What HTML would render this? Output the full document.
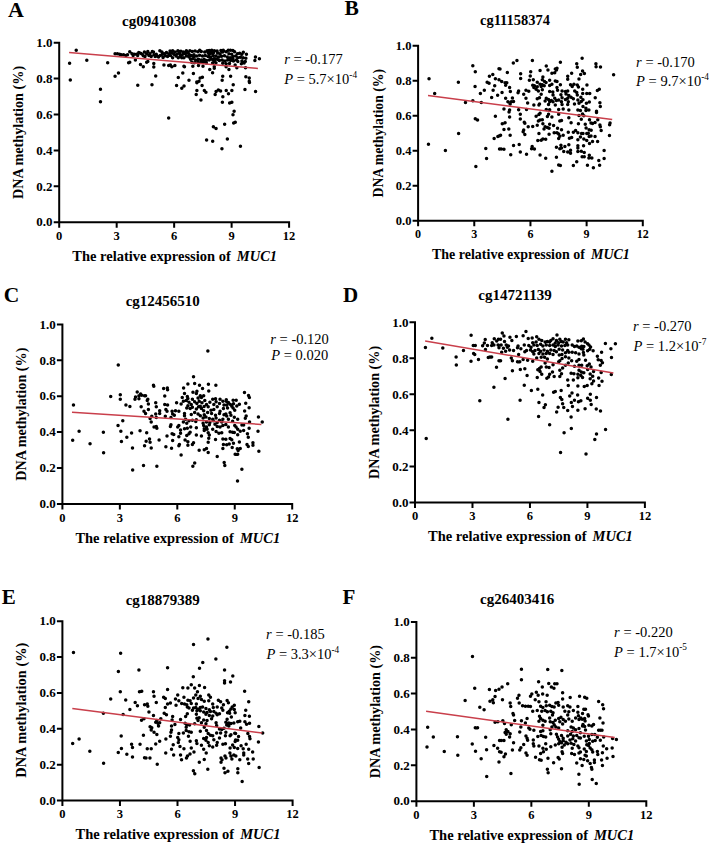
<!DOCTYPE html><html><head><meta charset="utf-8"><style>
html,body{margin:0;padding:0;background:#fff;}
svg{display:block;}
text{font-family:"Liberation Serif",serif;}
.b{font-weight:bold;}
</style></head><body>
<svg width="709" height="844" viewBox="0 0 709 844">
<text class="b" x="8" y="16.7" font-size="22">A</text>
<text class="b" x="122.1" y="25.7" font-size="15">cg09410308</text>
<path d="M59.2 41.7V223.2M58.2 222.2H290.1M53.7 222.2H59.2M53.7 186.3H59.2M53.7 150.4H59.2M53.7 114.5H59.2M53.7 78.6H59.2M53.7 42.7H59.2M59.2 222.2V227.7M116.68 222.2V227.7M174.15 222.2V227.7M231.62 222.2V227.7M289.1 222.2V227.7" stroke="#000" stroke-width="2.0" fill="none"/>
<text class="b" x="52.6" y="226.4" font-size="13" text-anchor="end">0.0</text>
<text class="b" x="52.6" y="190.5" font-size="13" text-anchor="end">0.2</text>
<text class="b" x="52.6" y="154.6" font-size="13" text-anchor="end">0.4</text>
<text class="b" x="52.6" y="118.7" font-size="13" text-anchor="end">0.6</text>
<text class="b" x="52.6" y="82.8" font-size="13" text-anchor="end">0.8</text>
<text class="b" x="52.6" y="46.9" font-size="13" text-anchor="end">1.0</text>
<text class="b" x="59.2" y="239.8" font-size="12.5" text-anchor="middle">0</text>
<text class="b" x="116.68" y="239.8" font-size="12.5" text-anchor="middle">3</text>
<text class="b" x="174.15" y="239.8" font-size="12.5" text-anchor="middle">6</text>
<text class="b" x="231.62" y="239.8" font-size="12.5" text-anchor="middle">9</text>
<text class="b" x="289.1" y="239.8" font-size="12.5" text-anchor="middle">12</text>
<text class="b" x="72.24" y="260.9" font-size="14.5">The relative expression of</text>
<text class="b" x="236.78" y="260.9" font-size="14.5" font-style="italic">MUC1</text>
<text class="b" transform="translate(23 132.45) rotate(-90)" x="0" y="0" font-size="14.2" text-anchor="middle">DNA methylation (%)</text>
<path d="M76.22 50.16h0.01M69.59 63.27h0.01M86.8 60.17h0.01M107.67 62.85h0.01M70.3 80.06h0.01M100.48 89.37h0.01M100.48 101.64h0.01M115.08 53.72h0.01M117.33 53.72h0.01M119.59 54.28h0.01M121.28 54.85h0.01M123.54 54.85h0.01M125.8 55.41h0.01M127.49 54.85h0.01M129.75 51.8h0.01M132 53.72h0.01M133.13 55.41h0.01M134.26 54.28h0.01M136.52 54.28h0.01M137.64 55.41h0.01M138.77 52.59h0.01M140.47 53.16h0.01M142.16 54.28h0.01M143.29 55.64h0.01M144.41 52.03h0.01M144.98 56.54h0.01M146.67 53.72h0.01M147.8 51.46h0.01M148.93 55.41h0.01M150.06 53.72h0.01M151.18 56.54h0.01M152.31 51.46h0.01M153.44 52.03h0.01M154.01 54.85h0.01M155.13 56.54h0.01M156.26 54.28h0.01M157.39 56.31h0.01M158.52 57.1h0.01M160.21 55.41h0.01M161.9 52.03h0.01M162.47 54.28h0.01M163.03 57.44h0.01M164.16 53.72h0.01M165.29 55.64h0.01M166.42 52.59h0.01M167.55 56.54h0.01M168.67 53.72h0.01M170.37 55.41h0.01M171.5 52.59h0.01M172.62 57.67h0.01M173.75 54.28h0.01M174.88 52.03h0.01M176.01 55.98h0.01M177.14 54.28h0.01M178.27 57.67h0.01M179.39 53.16h0.01M180.52 55.98h0.01M182.21 54.85h0.01M183.34 52.03h0.01M183.91 57.67h0.01M185.04 53.72h0.01M186.73 55.98h0.01M187.86 52.59h0.01M188.98 57.1h0.01M188.98 54.28h0.01M135.39 59.93h0.01M128.62 62.75h0.01M129.75 62.18h0.01M140.47 64.44h0.01M143.29 66.66h0.01M146.67 62.18h0.01M147.8 61.62h0.01M153.78 63.54h0.01M153.78 67h0.01M163.94 65h0.01M168.67 65.57h0.01M170.37 65h0.01M171.83 66.66h0.01M174.88 65.57h0.01M183.91 66.13h0.01M184.47 66.66h0.01M115.08 76.25h0.01M118.46 73.09h0.01M155.7 76.02h0.01M178.27 77.38h0.01M182.78 73.09h0.01M188.98 80.2h0.01M192.26 51.46h0.01M195.08 51.12h0.01M197.9 51.8h0.01M201.28 51.46h0.01M204.67 52.03h0.01M208.05 52.59h0.01M210.87 53.16h0.01M213.7 52.59h0.01M217.08 51.12h0.01M219.9 53.72h0.01M222.72 52.03h0.01M226.11 51.8h0.01M228.93 53.72h0.01M231.75 54.28h0.01M234.57 51.8h0.01M237.39 53.72h0.01M239.65 53.16h0.01M241.9 54.28h0.01M246.42 54.28h0.01M191.13 55.41h0.01M193.95 54.85h0.01M196.77 55.98h0.01M199.59 55.19h0.01M202.41 55.98h0.01M205.23 55.41h0.01M208.05 56.54h0.01M210.31 57.1h0.01M213.13 55.41h0.01M215.95 55.98h0.01M218.77 57.1h0.01M221.59 56.31h0.01M224.41 55.64h0.01M227.24 57.1h0.01M230.06 57.67h0.01M232.88 56.54h0.01M235.7 55.98h0.01M237.95 57.67h0.01M243.03 57.67h0.01M245.85 58.23h0.01M190.56 59.36h0.01M192.82 58.8h0.01M195.64 59.93h0.01M198.46 59.36h0.01M201.28 59.93h0.01M204.1 59.36h0.01M206.36 60.49h0.01M209.18 59.93h0.01M212 59.36h0.01M214.26 61.05h0.01M217.08 59.36h0.01M219.34 60.49h0.01M222.16 59.93h0.01M224.98 61.05h0.01M227.8 59.93h0.01M230.62 60.49h0.01M233.44 61.05h0.01M236.26 59.93h0.01M241.9 61.05h0.01M245.29 61.62h0.01M191.69 62.18h0.01M194.51 62.75h0.01M197.9 61.96h0.01M200.72 62.41h0.01M203.54 62.18h0.01M206.36 63.08h0.01M212.57 63.08h0.01M215.95 62.75h0.01M222.72 63.31h0.01M226.11 63.87h0.01M229.49 63.54h0.01M235.13 65h0.01M241.34 63.87h0.01M244.16 63.08h0.01M192.82 66.13h0.01M198.46 65.57h0.01M202.98 66.13h0.01M214.26 66.66h0.01M214.26 68.35h0.01M209.75 69.48h0.01M212.57 72.64h0.01M226.11 66.66h0.01M228.93 69.48h0.01M236.83 67.79h0.01M245.51 67.79h0.01M193.39 73.43h0.01M200.16 77.94h0.01M202.41 77.15h0.01M222.72 76.25h0.01M222.16 80.2h0.01M230.62 76.25h0.01M245.85 76.81h0.01M249.24 77.94h0.01M249.24 81.33h0.01M196.77 81.89h0.01M199.03 81.33h0.01M255.44 57.1h0.01M254.88 60.49h0.01M259.39 58.8h0.01M137.76 85.16h0.01M151.97 84.71h0.01M176.57 85.61h0.01M181.76 88.32h0.01M184.02 86.06h0.01M196.88 82.68h0.01M202.07 85.61h0.01M196.88 90.58h0.01M204.33 90.58h0.01M205.91 92.16h0.01M196.21 94.41h0.01M216.06 91.48h0.01M218.32 89.9h0.01M220.58 91.03h0.01M215.16 94.41h0.01M226.22 90.58h0.01M231.86 90.58h0.01M228.48 93.73h0.01M222.83 96.67h0.01M233.22 84.71h0.01M244.95 89.45h0.01M255.56 91.48h0.01M249.46 82.45h0.01M200.94 100.05h0.01M222.38 102.31h0.01M229.61 102.99h0.01M231.86 102.31h0.01M234.12 111.34h0.01M232.99 114.72h0.01M235.25 122.17h0.01M233.67 123.07h0.01M224.64 124.2h0.01M213.36 126.68h0.01M216.06 128.49h0.01M168.67 118.11h0.01M206.59 140h0.01M212.68 141.35h0.01M227.35 139.09h0.01M221.93 148.8h0.01M240.44 146.32h0.01M159.86 50.72h0.01M170.03 50.95h0.01M172.66 50.67h0.01M177.9 50.78h0.01M180.9 51.36h0.01M186.38 50.64h0.01M181.76 57.75h0.01M189.89 50.81h0.01M199.67 50.31h0.01M207.16 50.65h0.01M209.21 50.59h0.01M211.74 50.14h0.01M214.32 50.72h0.01M220.88 50.61h0.01M223.25 50.15h0.01M228.27 50.14h0.01M230.4 50.22h0.01M232.88 50.39h0.01M217.62 52.97h0.01M208.96 54.44h0.01M193.92 57.01h0.01M214.09 58.86h0.01M232.9 58.81h0.01M243.32 52.34h0.01M240.45 57.16h0.01M237.85 61.59h0.01" stroke="#000" stroke-width="3.5" stroke-linecap="round" fill="none"/>
<line x1="69.1" y1="52.5" x2="257.9" y2="68.4" stroke="#c93f4b" stroke-width="1.5"/>
<text x="284.2" y="64.3" font-size="14.5"><tspan font-style="italic">r</tspan> = -0.177</text>
<text x="284.2" y="84.4" font-size="14.5"><tspan font-style="italic">P</tspan> = 5.7×10<tspan font-size="9.3" dy="-6.4">-4</tspan></text>
<text class="b" x="344.6" y="14.8" font-size="21.5">B</text>
<text class="b" x="480" y="24.9" font-size="14.47">cg11158374</text>
<path d="M418.1 44.8V221.7M417.1 220.7H643.8M412.6 220.7H418.1M412.6 185.72H418.1M412.6 150.74H418.1M412.6 115.76H418.1M412.6 80.78H418.1M412.6 45.8H418.1M418.1 220.7V226.2M474.27 220.7V226.2M530.45 220.7V226.2M586.62 220.7V226.2M642.8 220.7V226.2" stroke="#000" stroke-width="2.0" fill="none"/>
<text class="b" x="411.5" y="224.9" font-size="12.54" text-anchor="end">0.0</text>
<text class="b" x="411.5" y="189.92" font-size="12.54" text-anchor="end">0.2</text>
<text class="b" x="411.5" y="154.94" font-size="12.54" text-anchor="end">0.4</text>
<text class="b" x="411.5" y="119.96" font-size="12.54" text-anchor="end">0.6</text>
<text class="b" x="411.5" y="84.98" font-size="12.54" text-anchor="end">0.8</text>
<text class="b" x="411.5" y="50" font-size="12.54" text-anchor="end">1.0</text>
<text class="b" x="418.1" y="238.3" font-size="12.06" text-anchor="middle">0</text>
<text class="b" x="474.27" y="238.3" font-size="12.06" text-anchor="middle">3</text>
<text class="b" x="530.45" y="238.3" font-size="12.06" text-anchor="middle">6</text>
<text class="b" x="586.62" y="238.3" font-size="12.06" text-anchor="middle">9</text>
<text class="b" x="642.8" y="238.3" font-size="12.06" text-anchor="middle">12</text>
<text class="b" x="432.01" y="259.4" font-size="13.99">The relative expression of</text>
<text class="b" x="591.01" y="259.4" font-size="13.99" font-style="italic">MUC1</text>
<text class="b" transform="translate(383 133.25) rotate(-90)" x="0" y="0" font-size="13.7" text-anchor="middle">DNA methylation (%)</text>
<path d="M472.81 65.77h0.01M475.29 71.75h0.01M498.98 68.7h0.01M429.03 78.85h0.01M458.36 82.24h0.01M492.78 74.57h0.01M489.39 76.26h0.01M495.37 78.85h0.01M498.98 79.64h0.01M487.14 82.24h0.01M489.06 83.37h0.01M475.06 86.41h0.01M494.7 85.85h0.01M434.67 93.52h0.01M484.32 90.36h0.01M480.37 93.52h0.01M493.12 90.36h0.01M491.65 97.47h0.01M497.63 95.22h0.01M465.47 102.44h0.01M472.81 100.74h0.01M481.27 102.44h0.01M516.93 60.46h0.01M513.31 63.06h0.01M532.38 60.46h0.01M560.37 62.16h0.01M576.73 63.85h0.01M500 68.93h0.01M546.26 66.1h0.01M547.95 70.05h0.01M540.06 70.62h0.01M555.29 68.93h0.01M556.98 68.36h0.01M556.42 70.05h0.01M577.29 67.23h0.01M507.33 72.54h0.01M520.65 73.78h0.01M530.69 71.75h0.01M551.9 73.21h0.01M554.72 72.87h0.01M571.65 73.21h0.01M530.24 75.92h0.01M520.65 78.52h0.01M542.88 77.05h0.01M567.7 76.26h0.01M578.98 79.08h0.01M567.7 79.31h0.01M501.69 81.56h0.01M529.34 80.21h0.01M533.29 79.64h0.01M542.31 79.64h0.01M549.65 80.21h0.01M555.29 81.11h0.01M556.98 81.56h0.01M505.08 82.69h0.01M506.77 82.69h0.01M537.24 82.24h0.01M544.57 81.56h0.01M546.04 82.47h0.01M505.64 85.29h0.01M532.72 85.29h0.01M534.41 85.85h0.01M540.06 84.16h0.01M542.31 84.72h0.01M549.65 85.62h0.01M551.9 84.16h0.01M560.37 84.72h0.01M570.52 84.72h0.01M573.91 84.16h0.01M577.29 84.95h0.01M509.59 87.54h0.01M533.85 87.54h0.01M537.24 86.75h0.01M541.18 86.41h0.01M544.23 85.85h0.01M556.98 87.54h0.01M572.21 86.41h0.01M578.42 86.98h0.01M518.62 90.93h0.01M518.05 92.85h0.01M525.95 90.36h0.01M528.77 91.27h0.01M502.03 92.62h0.01M510.38 91.49h0.01M536.11 89.24h0.01M538.36 90.93h0.01M542.31 89.8h0.01M549.65 91.49h0.01M552.81 92.06h0.01M557.55 90.36h0.01M562.06 90.93h0.01M565.44 91.49h0.01M567.7 90.93h0.01M574.7 90.93h0.01M576.73 92.62h0.01M523.7 94.31h0.01M541.18 94.31h0.01M553.03 94.88h0.01M560.93 94.65h0.01M566.01 93.97h0.01M568.83 95.44h0.01M577.29 94.88h0.01M505.64 98.26h0.01M512.41 98.04h0.01M525.95 98.26h0.01M537.24 98.83h0.01M539.49 97.7h0.01M546.26 98.26h0.01M548.52 99.39h0.01M551.34 100.52h0.01M554.72 98.26h0.01M558.67 99.95h0.01M562.06 97.7h0.01M565.44 99.39h0.01M567.7 98.26h0.01M571.09 97.13h0.01M573.34 98.83h0.01M507.9 101.65h0.01M511.28 101.65h0.01M513.54 101.42h0.01M545.13 101.08h0.01M549.65 101.65h0.01M553.03 101.65h0.01M556.42 100.52h0.01M561.5 101.65h0.01M568.27 101.65h0.01M577.86 99.95h0.01M510.16 103.9h0.01M527.64 103h0.01M533.85 105.03h0.01M539.49 103.9h0.01M538.93 105.03h0.01M548.52 104.47h0.01M555.29 105.03h0.01M562.06 104.47h0.01M567.7 104.47h0.01M574.47 103.9h0.01M578.98 103.34h0.01M503.95 108.98h0.01M509.59 110.11h0.01M518.62 109.77h0.01M526.52 109.55h0.01M546.26 109.55h0.01M549.65 109.77h0.01M558.67 109.55h0.01M563.19 108.98h0.01M568.83 110.11h0.01M577.86 110.11h0.01M582.12 58.35h0.01M595.91 63.85h0.01M596.08 66.81h0.01M600.48 67.06h0.01M582.54 71.04h0.01M584.4 73.58h0.01M580.68 74.43h0.01M613.6 74.68h0.01M586.94 85h0.01M582.71 89.24h0.01M597.35 90.5h0.01M599.29 89.24h0.01M582.71 93.47h0.01M586.77 93.47h0.01M589.73 93.47h0.01M580.85 97.28h0.01M582.96 99.81h0.01M581.27 101.51h0.01M595.23 97.7h0.01M586.35 103.2h0.01M589.31 101.93h0.01M599.89 102.78h0.01M600.31 106.58h0.01M582.96 106.58h0.01M585.92 108.28h0.01M585.92 110.39h0.01M588.89 109.97h0.01M580.42 110.39h0.01M596.5 111.24h0.01M495.37 116.29h0.01M475.29 118.77h0.01M477.55 120.12h0.01M458.59 133.44h0.01M428.46 144.27h0.01M445.39 150.59h0.01M494.13 138.52h0.01M497.86 136.6h0.01M499.55 135.7h0.01M485.78 148.45h0.01M499.55 149.01h0.01M486.57 158.6h0.01M475.85 166.39h0.01M509.03 112h0.01M520.31 114.26h0.01M509.59 117.08h0.01M520.31 119h0.01M536.11 116.29h0.01M538.93 114.48h0.01M540.06 113.13h0.01M547.39 116.51h0.01M548.52 114.26h0.01M551.9 117.08h0.01M558.67 114.26h0.01M568.83 117.64h0.01M578.98 115.39h0.01M502.26 123.85h0.01M505.08 122.72h0.01M524.26 122.16h0.01M524.82 123.28h0.01M538.36 121.03h0.01M540.06 119.9h0.01M542.31 119.67h0.01M559.8 121.03h0.01M561.5 120.46h0.01M571.09 122.72h0.01M578.42 123.85h0.01M503.95 129.49h0.01M508.8 128.93h0.01M528.21 126.67h0.01M532.72 126.44h0.01M537.24 125.31h0.01M542.88 123.85h0.01M545.13 126.67h0.01M544.01 128.93h0.01M547.39 127.57h0.01M549.65 124.19h0.01M553.6 125.54h0.01M549.08 128.36h0.01M557.55 128.36h0.01M561.5 129.83h0.01M523.7 130.05h0.01M523.13 131.75h0.01M524.82 134.57h0.01M500.56 135.13h0.01M510.16 135.13h0.01M538.93 133.44h0.01M549.08 134.34h0.01M554.16 132.87h0.01M556.98 132.87h0.01M558.67 134h0.01M559.8 136.26h0.01M563.19 135.13h0.01M568.27 132.31h0.01M573.34 132.31h0.01M575.6 130.62h0.01M577.86 132.87h0.01M537.8 140.43h0.01M541.18 140.21h0.01M542.88 139.08h0.01M545.7 139.31h0.01M558.67 138.52h0.01M569.39 138.18h0.01M571.65 137.39h0.01M577.86 139.64h0.01M513.54 145.62h0.01M519.18 144.5h0.01M532.16 146.41h0.01M531.59 148.67h0.01M534.41 149.01h0.01M501.13 149.01h0.01M503.95 149.24h0.01M556.42 147.2h0.01M560.93 145.29h0.01M561.5 147.88h0.01M559.8 148.67h0.01M564.88 146.41h0.01M568.83 144.72h0.01M577.86 145.85h0.01M577.86 148.11h0.01M510.72 154.65h0.01M520.31 152.06h0.01M526.52 154.31h0.01M540.06 155.1h0.01M545.7 158.26h0.01M556.42 157.36h0.01M563.75 151.49h0.01M567.7 152.06h0.01M570.52 150.36h0.01M570.52 153.18h0.01M577.86 151.49h0.01M558.67 165.03h0.01M560.37 165.6h0.01M573.34 165.6h0.01M576.73 161.65h0.01M551.9 171.24h0.01M582.54 114.12h0.01M583.81 115.81h0.01M596.5 112.42h0.01M581.27 119.19h0.01M589.48 119.79h0.01M597.77 119.79h0.01M591 123h0.01M592.52 123.42h0.01M595.06 122.58h0.01M585.25 124.27h0.01M599.89 125.12h0.01M600.31 126.81h0.01M610.04 123h0.01M609.62 124.69h0.01M586.09 128.08h0.01M589.14 129.77h0.01M591.17 130.19h0.01M601.16 130.45h0.01M581.52 133.58h0.01M582.96 133.58h0.01M586.77 133.58h0.01M588.29 133.16h0.01M589.14 136.54h0.01M591 136.12h0.01M595.06 136.54h0.01M580.42 136.96h0.01M609.45 135.53h0.01M583.81 138.91h0.01M586.77 140.6h0.01M592.52 141.45h0.01M597.6 141.45h0.01M589.48 143.48h0.01M583.55 145.68h0.01M581.27 151.35h0.01M584.23 152.62h0.01M604.12 150.5h0.01M582.12 156.68h0.01M584.23 156.68h0.01M589.31 155.16h0.01M588.89 158.12h0.01M591.85 158.12h0.01M604.12 158.38h0.01M598.79 160.41h0.01M587.45 165.31h0.01M599.63 165.31h0.01M593.37 167.85h0.01" stroke="#000" stroke-width="3.5" stroke-linecap="round" fill="none"/>
<line x1="428" y1="95.4" x2="612.2" y2="119.6" stroke="#c93f4b" stroke-width="1.5"/>
<text x="636.1" y="67.4" font-size="14.5"><tspan font-style="italic">r</tspan> = -0.170</text>
<text x="636.1" y="86.1" font-size="14.5"><tspan font-style="italic">P</tspan> = 9.7×10<tspan font-size="9.3" dy="-6.4">-4</tspan></text>
<text class="b" x="3.8" y="302.3" font-size="21.5">C</text>
<text class="b" x="125.7" y="306.2" font-size="15">cg12456510</text>
<path d="M62.4 323.4V504.9M61.4 503.9H293.2M56.9 503.9H62.4M56.9 468H62.4M56.9 432.1H62.4M56.9 396.2H62.4M56.9 360.3H62.4M56.9 324.4H62.4M62.4 503.9V509.4M119.85 503.9V509.4M177.3 503.9V509.4M234.75 503.9V509.4M292.2 503.9V509.4" stroke="#000" stroke-width="2.0" fill="none"/>
<text class="b" x="55.8" y="508.1" font-size="13" text-anchor="end">0.0</text>
<text class="b" x="55.8" y="472.2" font-size="13" text-anchor="end">0.2</text>
<text class="b" x="55.8" y="436.3" font-size="13" text-anchor="end">0.4</text>
<text class="b" x="55.8" y="400.4" font-size="13" text-anchor="end">0.6</text>
<text class="b" x="55.8" y="364.5" font-size="13" text-anchor="end">0.8</text>
<text class="b" x="55.8" y="328.6" font-size="13" text-anchor="end">1.0</text>
<text class="b" x="62.4" y="521.5" font-size="12.5" text-anchor="middle">0</text>
<text class="b" x="119.85" y="521.5" font-size="12.5" text-anchor="middle">3</text>
<text class="b" x="177.3" y="521.5" font-size="12.5" text-anchor="middle">6</text>
<text class="b" x="234.75" y="521.5" font-size="12.5" text-anchor="middle">9</text>
<text class="b" x="292.2" y="521.5" font-size="12.5" text-anchor="middle">12</text>
<text class="b" x="75.39" y="542.6" font-size="14.5">The relative expression of</text>
<text class="b" x="239.93" y="542.6" font-size="14.5" font-style="italic">MUC1</text>
<text class="b" transform="translate(26.4 414.15) rotate(-90)" x="0" y="0" font-size="14.2" text-anchor="middle">DNA methylation (%)</text>
<path d="M118.26 365.05h0.01M110.7 396.42h0.01M120.29 394.72h0.01M137.21 391.9h0.01M140.6 393.94h0.01M141.73 395.29h0.01M138.91 395.85h0.01M135.52 396.98h0.01M144.55 395.85h0.01M120.29 399.24h0.01M134.96 399.24h0.01M138.91 398.67h0.01M207.85 350.94h0.01M193.52 376.67h0.01M187.88 384.01h0.01M194.65 383.44h0.01M199.5 385.36h0.01M208.41 384.23h0.01M215.86 385.36h0.01M153.46 385.13h0.01M153.8 386.26h0.01M163.62 388.52h0.01M167.34 387.95h0.01M167.57 389.87h0.01M183.59 387.95h0.01M202.55 388.52h0.01M208.75 391h0.01M192.95 392.13h0.01M196.9 391.34h0.01M196.34 393.6h0.01M184.49 393.6h0.01M145.56 395.85h0.01M164.75 396.08h0.01M147.82 399.24h0.01M182.24 397.55h0.01M187.31 396.42h0.01M187.88 398.45h0.01M192.39 399.24h0.01M198.03 398.11h0.01M200.29 395.85h0.01M201.42 397.55h0.01M203.67 395.85h0.01M212.7 399.24h0.01M215.52 398.67h0.01M220.04 399.24h0.01M244.46 392.47h0.01M248.53 395.43h0.01M249.37 397.55h0.01M226.27 399.66h0.01M73.46 405.08h0.01M125.93 405.08h0.01M129.88 406.54h0.01M141.16 406.77h0.01M143.98 411.28h0.01M122.77 420.65h0.01M118.03 425.61h0.01M79.1 431.37h0.01M103.36 432.16h0.01M120.85 431.37h0.01M131.57 433.06h0.01M140.04 430.69h0.01M126.83 437.24h0.01M72.67 440.28h0.01M90.05 443.78h0.01M121.42 441.52h0.01M132.48 447.95h0.01M144.55 445.7h0.01M103.59 452.81h0.01M147.26 400.56h0.01M148.39 403.95h0.01M155.72 402.82h0.01M156.28 406.77h0.01M164.75 404.51h0.01M167.57 405.08h0.01M176.59 402.82h0.01M181.11 403.95h0.01M183.36 401.13h0.01M186.18 400.56h0.01M189.01 402.26h0.01M191.26 404.51h0.01M194.65 401.69h0.01M196.9 403.39h0.01M199.16 401.13h0.01M201.98 402.82h0.01M204.8 400.56h0.01M206.5 404.51h0.01M209.88 402.26h0.01M213.83 404.51h0.01M216.09 401.69h0.01M219.47 403.39h0.01M222.86 401.13h0.01M223.98 405.08h0.01M187.88 405.64h0.01M200.29 406.21h0.01M148.39 409.59h0.01M159.67 410.72h0.01M165.87 409.59h0.01M167 411.28h0.01M172.08 411.28h0.01M175.47 410.72h0.01M178.85 411.28h0.01M186.75 407.9h0.01M190.13 408.46h0.01M192.39 407.33h0.01M196.34 409.03h0.01M198.6 406.77h0.01M201.42 408.46h0.01M203.67 410.72h0.01M208.19 406.77h0.01M211.01 410.16h0.01M213.83 409.59h0.01M217.21 406.77h0.01M220.04 411.28h0.01M223.42 408.46h0.01M145.56 413.54h0.01M155.72 414.1h0.01M159.67 413.54h0.01M172.64 414.1h0.01M174.34 415.23h0.01M184.49 413.54h0.01M191.26 414.44h0.01M194.65 412.41h0.01M198.03 414.1h0.01M200.29 415.8h0.01M204.24 414.67h0.01M207.62 412.41h0.01M211.57 413.54h0.01M215.52 415.23h0.01M219.47 413.54h0.01M223.98 414.67h0.01M184.49 415.8h0.01M151.77 416.36h0.01M165.31 416.36h0.01M170.95 417.49h0.01M156.28 417.49h0.01M150.08 418.62h0.01M185.62 419.18h0.01M189.01 420.87h0.01M196.34 419.75h0.01M203.11 418.05h0.01M205.93 416.93h0.01M209.32 418.62h0.01M212.7 419.18h0.01M216.09 418.05h0.01M219.47 420.31h0.01M222.86 419.18h0.01M151.21 422h0.01M183.36 422h0.01M192.39 420.31h0.01M195.78 421.44h0.01M203.11 423.13h0.01M206.5 422h0.01M209.88 422.57h0.01M213.27 420.87h0.01M217.21 422.57h0.01M221.73 422h0.01M170.95 424.82h0.01M170.39 426.52h0.01M178.85 425.39h0.01M186.75 423.13h0.01M154.03 427.08h0.01M156.28 426.52h0.01M156.85 428.21h0.01M177.72 427.08h0.01M184.49 428.77h0.01M187.31 428.21h0.01M190.7 427.08h0.01M196.34 427.64h0.01M203.67 425.39h0.01M204.24 428.77h0.01M206.5 427.08h0.01M209.32 424.82h0.01M214.96 424.26h0.01M217.21 426.52h0.01M220.04 427.08h0.01M222.86 425.39h0.01M146.69 432.72h0.01M180.54 429.9h0.01M180.54 433.29h0.01M190.13 432.16h0.01M204.24 430.47h0.01M207.06 429.34h0.01M208.19 432.72h0.01M212.7 429.34h0.01M216.09 431.59h0.01M218.91 433.29h0.01M221.73 432.72h0.01M172.08 433.85h0.01M189.01 433.85h0.01M167 435.88h0.01M173.77 434.41h0.01M178.85 436.67h0.01M186.75 435.54h0.01M196.34 434.98h0.01M201.42 435.88h0.01M209.32 434.98h0.01M208.75 438.36h0.01M149.51 438.93h0.01M159.1 440.06h0.01M215.52 439.49h0.01M222.86 438.93h0.01M146.13 441.18h0.01M150.08 442.31h0.01M172.64 440.62h0.01M185.06 440.06h0.01M187.88 441.75h0.01M193.52 442.65h0.01M208.19 442.31h0.01M192.39 444.57h0.01M223.42 444.57h0.01M187.88 445.13h0.01M178.85 445.7h0.01M179.41 444.57h0.01M151.21 447.95h0.01M165.87 446.83h0.01M171.52 448.29h0.01M199.16 450.21h0.01M204.24 449.65h0.01M206.5 448.52h0.01M208.19 452.47h0.01M222.86 448.52h0.01M181.11 455.06h0.01M217.21 456.42h0.01M226.27 401.27h0.01M228.39 402.54h0.01M226.69 405.08h0.01M227.54 408.04h0.01M230.08 404.23h0.01M231.77 406.35h0.01M233.46 403.81h0.01M233.04 408.04h0.01M234.73 410.16h0.01M239.39 404.23h0.01M245.73 403.22h0.01M249.12 407.79h0.01M244.63 411h0.01M230.08 412.69h0.01M225.85 413.96h0.01M230.92 415.23h0.01M226.69 416.08h0.01M234.31 417.35h0.01M237.69 419.29h0.01M228.39 419.29h0.01M246.16 416.08h0.01M245.31 418.19h0.01M258.43 416.93h0.01M232.62 421.16h0.01M249.54 422h0.01M262.24 422h0.01M225.85 424.54h0.01M228.39 427.08h0.01M234.73 425.39h0.01M236 427.08h0.01M237.69 429.2h0.01M241.93 424.96h0.01M243.62 424.96h0.01M240.23 431.31h0.01M243.62 430.47h0.01M249.12 428.35h0.01M258 431.31h0.01M230.08 431.73h0.01M232.62 432.16h0.01M234.31 432.58h0.01M237.69 434.7h0.01M247.43 433.85h0.01M248.27 437.24h0.01M225.85 439.35h0.01M230.08 438.5h0.01M231.77 439.77h0.01M233.46 443.33h0.01M239.39 441.89h0.01M226.69 444.85h0.01M229.23 444.01h0.01M247 444.43h0.01M248.27 446.38h0.01M252.93 442.74h0.01M252.93 445.28h0.01M232.19 447.39h0.01M237.27 448.66h0.01M240.23 448.41h0.01M238.12 450.61h0.01M258.85 451.2h0.01M235.16 454.16h0.01M237.69 454.16h0.01M132.64 469.93h0.01M143.5 465.59h0.01M156.85 466.21h0.01M192.84 466.21h0.01M194.7 463.1h0.01M224.18 462.48h0.01M224.8 465.59h0.01M241.87 469.31h0.01M237.52 481.1h0.01M233.11 400.16h0.01M236.19 400.32h0.01M204.1 406.59h0.01M236.78 406.07h0.01" stroke="#000" stroke-width="3.5" stroke-linecap="round" fill="none"/>
<line x1="72" y1="412.2" x2="261.4" y2="424.4" stroke="#c93f4b" stroke-width="1.5"/>
<text x="270.3" y="344.4" font-size="14.5"><tspan font-style="italic">r</tspan> = -0.120</text>
<text x="271.3" y="360.4" font-size="14.5"><tspan font-style="italic">P</tspan> = 0.020</text>
<text class="b" x="343.1" y="301.8" font-size="21">D</text>
<text class="b" x="478.3" y="300.2" font-size="15">cg14721139</text>
<path d="M415 321.3V503.4M414 502.4H645.9M409.5 502.4H415M409.5 466.38H415M409.5 430.36H415M409.5 394.34H415M409.5 358.32H415M409.5 322.3H415M415 502.4V507.9M472.48 502.4V507.9M529.95 502.4V507.9M587.42 502.4V507.9M644.9 502.4V507.9" stroke="#000" stroke-width="2.0" fill="none"/>
<text class="b" x="408.4" y="506.6" font-size="13" text-anchor="end">0.0</text>
<text class="b" x="408.4" y="470.58" font-size="13" text-anchor="end">0.2</text>
<text class="b" x="408.4" y="434.56" font-size="13" text-anchor="end">0.4</text>
<text class="b" x="408.4" y="398.54" font-size="13" text-anchor="end">0.6</text>
<text class="b" x="408.4" y="362.52" font-size="13" text-anchor="end">0.8</text>
<text class="b" x="408.4" y="326.5" font-size="13" text-anchor="end">1.0</text>
<text class="b" x="415" y="520" font-size="12.5" text-anchor="middle">0</text>
<text class="b" x="472.48" y="520" font-size="12.5" text-anchor="middle">3</text>
<text class="b" x="529.95" y="520" font-size="12.5" text-anchor="middle">6</text>
<text class="b" x="587.42" y="520" font-size="12.5" text-anchor="middle">9</text>
<text class="b" x="644.9" y="520" font-size="12.5" text-anchor="middle">12</text>
<text class="b" x="428.04" y="541.1" font-size="14.5">The relative expression of</text>
<text class="b" x="592.58" y="541.1" font-size="14.5" font-style="italic">MUC1</text>
<text class="b" transform="translate(379 412.35) rotate(-90)" x="0" y="0" font-size="14.2" text-anchor="middle">DNA methylation (%)</text>
<path d="M431.85 338.16h0.01M425.42 347.41h0.01M442.79 348.08h0.01M471.11 335.33h0.01M463.44 350.57h0.01M473.26 345.49h0.01M475.29 345.49h0.01M473.6 353.39h0.01M474.72 354.52h0.01M456.11 357.11h0.01M456.33 365.01h0.01M471 361.29h0.01M478.45 359.59h0.01M485.22 339.51h0.01M484.32 342.89h0.01M482.62 345.83h0.01M487.48 345.49h0.01M485.44 349.44h0.01M492.21 342.67h0.01M491.65 345.49h0.01M493.91 344.93h0.01M494.25 338.72h0.01M496.73 340.98h0.01M498.42 339.28h0.01M498.08 344.93h0.01M498.98 347.75h0.01M488.27 357.56h0.01M489.96 357.11h0.01M491.65 357.11h0.01M498.98 360.72h0.01M496.5 367.27h0.01M493.91 387.24h0.01M502.26 333.08h0.01M503.95 335.9h0.01M525.95 331.39h0.01M523.13 335.67h0.01M516.36 336.46h0.01M509.93 337.25h0.01M556.98 335h0.01M536.67 336.8h0.01M500.56 339.28h0.01M504.51 341.54h0.01M511.85 340.41h0.01M528.21 338.38h0.01M532.16 337.93h0.01M538.93 339.28h0.01M541.75 340.41h0.01M547.39 341.54h0.01M550.78 340.41h0.01M553.03 338.72h0.01M556.42 340.41h0.01M559.8 339.28h0.01M561.5 341.54h0.01M565.44 339.28h0.01M568.83 339.85h0.01M577.86 340.98h0.01M532.72 342.67h0.01M536.11 342.1h0.01M545.13 342.1h0.01M549.65 342.1h0.01M558.67 342.67h0.01M563.19 342.1h0.01M566.57 342.67h0.01M501.13 344.93h0.01M506.21 344.93h0.01M508.46 346.05h0.01M518.05 346.05h0.01M524.26 344.93h0.01M528.77 345.49h0.01M531.03 347.18h0.01M533.85 344.93h0.01M537.24 345.49h0.01M540.62 344.36h0.01M542.88 346.05h0.01M546.26 344.93h0.01M549.65 345.49h0.01M553.03 344.93h0.01M555.29 346.62h0.01M558.11 344.93h0.01M561.5 346.05h0.01M564.88 345.49h0.01M567.7 344.93h0.01M572.21 344.93h0.01M574.47 346.62h0.01M576.73 346.05h0.01M578.98 347.18h0.01M520.87 348.87h0.01M517.49 347.75h0.01M503.39 348.31h0.01M507.33 347.18h0.01M501.69 352.26h0.01M505.64 351.13h0.01M509.59 350h0.01M513.54 350.57h0.01M524.82 351.7h0.01M526.52 350.57h0.01M530.47 350h0.01M532.72 351.7h0.01M534.98 350.57h0.01M538.36 349.44h0.01M540.62 351.13h0.01M544.01 350h0.01M547.39 351.13h0.01M550.78 350h0.01M554.16 350.57h0.01M556.42 351.7h0.01M562.62 350h0.01M565.44 352.82h0.01M568.83 352.26h0.01M572.21 352.26h0.01M575.6 352.82h0.01M578.98 353.95h0.01M518.62 354.52h0.01M533.85 353.95h0.01M538.93 353.39h0.01M542.88 353.95h0.01M546.26 353.39h0.01M549.65 353.39h0.01M553.03 354.52h0.01M559.24 355.08h0.01M567.7 350.57h0.01M511.28 357.9h0.01M512.41 360.72h0.01M517.49 361.85h0.01M519.75 361.85h0.01M523.13 359.59h0.01M527.64 360.16h0.01M532.72 361.29h0.01M536.67 357.9h0.01M541.18 357.34h0.01M544.57 357.34h0.01M547.39 359.03h0.01M559.8 360.72h0.01M562.06 358.47h0.01M565.44 356.77h0.01M568.83 357.9h0.01M571.65 360.72h0.01M576.73 361.29h0.01M578.98 359.59h0.01M500.56 360.72h0.01M545.13 362.98h0.01M553.03 364.67h0.01M565.44 365.24h0.01M558.67 361.85h0.01M562.62 368.06h0.01M568.27 362.98h0.01M546.26 366.93h0.01M549.08 367.49h0.01M541.18 366.93h0.01M539.49 368.62h0.01M574.47 366.36h0.01M578.98 365.24h0.01M512.41 370.65h0.01M520.31 369.52h0.01M524.82 368.85h0.01M537.8 369.75h0.01M540.06 371.44h0.01M559.8 370.31h0.01M561.5 373.7h0.01M571.09 373.13h0.01M573.91 373.7h0.01M578.98 370.31h0.01M577.86 374.26h0.01M549.65 374.26h0.01M552.47 372.01h0.01M541.75 374.26h0.01M527.08 375.39h0.01M505.08 378.55h0.01M537.24 377.42h0.01M546.83 378.21h0.01M548.52 377.08h0.01M554.16 376.52h0.01M559.8 376.52h0.01M567.7 379.9h0.01M573.34 379.9h0.01M577.86 377.65h0.01M524.26 385.32h0.01M568.27 385.55h0.01M577.86 386.11h0.01M583.39 339h0.01M581.27 340.69h0.01M585.08 341.96h0.01M587.62 343.66h0.01M588.89 344.93h0.01M581.69 346.19h0.01M583.81 346.62h0.01M581.27 348.73h0.01M582.96 349.16h0.01M590.58 347.04h0.01M589.73 349.16h0.01M587.62 350.85h0.01M593.12 350.68h0.01M583.39 352.54h0.01M583.81 355.08h0.01M605.39 343.4h0.01M615.37 343.66h0.01M610.89 348.73h0.01M601.58 352.37h0.01M611.48 357.45h0.01M597.35 356.35h0.01M598.19 359.73h0.01M601.16 360.58h0.01M602.43 362.7h0.01M600.31 365.24h0.01M585.5 360.16h0.01M589.31 363.97h0.01M587.19 365.66h0.01M581.69 365.24h0.01M591 366.93h0.01M587.62 369.47h0.01M593.54 371.58h0.01M601.16 372.43h0.01M611.31 374.54h0.01M581.27 372.01h0.01M583.81 372.85h0.01M580.85 375.39h0.01M582.54 377.51h0.01M590.16 374.12h0.01M592.69 376.24h0.01M590.16 378.78h0.01M593.54 380.89h0.01M598.62 377.93h0.01M602 381.31h0.01M591.85 383.85h0.01M599.04 385.55h0.01M584.23 386.39h0.01M587.19 385.55h0.01M479.8 400.64h0.01M426.21 438.44h0.01M531.37 390.48h0.01M537.8 389.13h0.01M542.65 395h0.01M553.6 392.29h0.01M555.29 391.61h0.01M561.16 390.48h0.01M571.99 393.08h0.01M569.73 395.9h0.01M577.63 395h0.01M560.37 397.59h0.01M561.83 399.51h0.01M574.47 400.19h0.01M571.31 402.44h0.01M578.42 401.77h0.01M538.93 402.44h0.01M545.36 404.7h0.01M544.01 407.41h0.01M562.62 403.8h0.01M558.11 407.18h0.01M563.75 407.41h0.01M572.44 406.62h0.01M567.7 410.57h0.01M556.64 411.92h0.01M577.86 410.34h0.01M520.08 400.19h0.01M538.59 416.43h0.01M571.09 417.11h0.01M507.9 419.26h0.01M549.65 424.67h0.01M571.31 428.62h0.01M564.09 432.68h0.01M590.32 394.35h0.01M596.5 397.48h0.01M587.62 398.32h0.01M590.32 400.27h0.01M580.85 400.69h0.01M591.17 404.5h0.01M585.08 408.73h0.01M596.25 408.99h0.01M600.48 411.02h0.01M605.56 429.47h0.01M596.5 434.12h0.01M594.81 439.62h0.01M560.56 452.41h0.01M586.01 453.96h0.01M555.23 342.91h0.01M559.14 349.14h0.01M561.95 354.61h0.01" stroke="#000" stroke-width="3.5" stroke-linecap="round" fill="none"/>
<line x1="425.1" y1="341" x2="613.4" y2="373" stroke="#c93f4b" stroke-width="1.5"/>
<text x="633" y="330.9" font-size="14.5"><tspan font-style="italic">r</tspan> = -0.270</text>
<text x="633.5" y="351.2" font-size="14.5"><tspan font-style="italic">P</tspan> = 1.2×10<tspan font-size="9.3" dy="-6.4">-7</tspan></text>
<text class="b" x="1.7" y="603.7" font-size="21">E</text>
<text class="b" x="125.7" y="604.5" font-size="15">cg18879389</text>
<path d="M62.4 620.2V801.6M61.4 800.6H293.6M56.9 800.6H62.4M56.9 764.72H62.4M56.9 728.84H62.4M56.9 692.96H62.4M56.9 657.08H62.4M56.9 621.2H62.4M62.4 800.6V806.1M119.95 800.6V806.1M177.5 800.6V806.1M235.05 800.6V806.1M292.6 800.6V806.1" stroke="#000" stroke-width="2.0" fill="none"/>
<text class="b" x="55.8" y="804.8" font-size="13" text-anchor="end">0.0</text>
<text class="b" x="55.8" y="768.92" font-size="13" text-anchor="end">0.2</text>
<text class="b" x="55.8" y="733.04" font-size="13" text-anchor="end">0.4</text>
<text class="b" x="55.8" y="697.16" font-size="13" text-anchor="end">0.6</text>
<text class="b" x="55.8" y="661.28" font-size="13" text-anchor="end">0.8</text>
<text class="b" x="55.8" y="625.4" font-size="13" text-anchor="end">1.0</text>
<text class="b" x="62.4" y="818.2" font-size="12.5" text-anchor="middle">0</text>
<text class="b" x="119.95" y="818.2" font-size="12.5" text-anchor="middle">3</text>
<text class="b" x="177.5" y="818.2" font-size="12.5" text-anchor="middle">6</text>
<text class="b" x="235.05" y="818.2" font-size="12.5" text-anchor="middle">9</text>
<text class="b" x="292.6" y="818.2" font-size="12.5" text-anchor="middle">12</text>
<text class="b" x="75.59" y="839.3" font-size="14.5">The relative expression of</text>
<text class="b" x="240.13" y="839.3" font-size="14.5" font-style="italic">MUC1</text>
<text class="b" transform="translate(26.4 710.2) rotate(-90)" x="0" y="0" font-size="14.4" text-anchor="middle">DNA methylation (%)</text>
<path d="M73.46 652.57h0.01M120.63 653.13h0.01M118.37 671.52h0.01M138.91 670.06h0.01M207.96 639.03h0.01M193.52 644.44h0.01M215.86 659.11h0.01M202.77 662.5h0.01M199.5 668.36h0.01M167.57 667.8h0.01M193.29 676.83h0.01M224.55 670.06h0.01M224.55 680.78h0.01M224.55 683.03h0.01M191.26 684.72h0.01M199.39 685.51h0.01M182.8 687.77h0.01M187.88 688.11h0.01M194.65 688.11h0.01M204.58 687.55h0.01M167.57 689.58h0.01M226.86 647.35h0.01M232.79 676.12h0.01M230.5 682.05h0.01M120.29 691.69h0.01M139.47 691.69h0.01M141.73 691.13h0.01M110.7 699.03h0.01M125.71 699.93h0.01M135.18 702.41h0.01M137.44 705.8h0.01M144.55 704.67h0.01M129.88 709.41h0.01M103.36 713.13h0.01M123.11 714.6h0.01M141.5 720.24h0.01M143.98 718.77h0.01M121.19 736.04h0.01M143.42 735.36h0.01M79.1 739.08h0.01M72.67 743.6h0.01M131.57 744.16h0.01M132.48 747.55h0.01M140.04 744.16h0.01M121.42 748.45h0.01M153.46 691.69h0.01M197.47 691.69h0.01M154.03 696.21h0.01M163.62 697.33h0.01M165.31 698.46h0.01M177.72 695.08h0.01M183.93 697.33h0.01M195.78 695.08h0.01M200.29 696.21h0.01M208.75 695.08h0.01M210.44 697.33h0.01M175.47 699.03h0.01M178.85 700.72h0.01M187.88 700.16h0.01M190.13 700.72h0.01M193.52 697.9h0.01M198.03 698.46h0.01M201.42 699.59h0.01M204.24 701.28h0.01M208.75 700.72h0.01M218.34 700.16h0.01M220.6 701.85h0.01M156.28 702.41h0.01M147.26 704.1h0.01M167.57 704.1h0.01M170.39 702.98h0.01M176.03 705.23h0.01M181.67 703.54h0.01M184.49 704.1h0.01M186.75 704.67h0.01M191.26 703.54h0.01M196.34 704.1h0.01M212.7 704.1h0.01M223.42 704.67h0.01M147.82 706.36h0.01M165.31 707.49h0.01M187.31 706.93h0.01M189.01 708.05h0.01M193.52 708.05h0.01M195.78 707.49h0.01M198.03 709.18h0.01M200.29 707.49h0.01M202.55 706.93h0.01M205.93 708.62h0.01M209.32 709.75h0.01M213.27 707.49h0.01M217.21 706.93h0.01M221.73 708.05h0.01M192.39 710.31h0.01M196.9 710.87h0.01M200.29 710.87h0.01M203.67 712h0.01M207.06 712.57h0.01M210.44 711.44h0.01M213.83 711.44h0.01M216.09 713.13h0.01M219.47 713.7h0.01M222.86 710.31h0.01M148.95 712h0.01M164.18 713.13h0.01M166.44 714.82h0.01M153.46 715.39h0.01M172.64 716.52h0.01M185.62 716.52h0.01M187.31 713.7h0.01M196.34 714.26h0.01M205.93 714.26h0.01M209.32 715.39h0.01M212.7 715.95h0.01M217.21 714.82h0.01M180.54 719.56h0.01M172.08 719.9h0.01M156.85 720.47h0.01M160.8 718.77h0.01M196.9 718.21h0.01M199.16 717.64h0.01M198.03 720.47h0.01M203.67 719.9h0.01M207.06 720.47h0.01M211.57 718.77h0.01M155.72 722.16h0.01M157.98 723.29h0.01M159.67 722.72h0.01M158.54 726.11h0.01M150.08 726.67h0.01M151.77 727.8h0.01M171.52 726.11h0.01M174.9 724.41h0.01M185.06 723.29h0.01M186.75 724.98h0.01M189.57 724.98h0.01M194.65 723.85h0.01M201.42 722.72h0.01M205.93 723.85h0.01M216.09 722.72h0.01M216.65 725.54h0.01M204.24 727.24h0.01M219.47 728.93h0.01M221.73 729.49h0.01M223.98 728.36h0.01M186.18 727.24h0.01M151.21 730.06h0.01M154.03 732.31h0.01M156.85 734.57h0.01M171.52 730.06h0.01M170.95 732.31h0.01M178.85 733.44h0.01M183.36 732.88h0.01M186.18 730.62h0.01M189.01 731.75h0.01M191.26 732.31h0.01M200.29 731.18h0.01M206.5 730.62h0.01M208.19 733.44h0.01M210.44 735.13h0.01M212.7 735.7h0.01M216.65 732.88h0.01M220.6 732.88h0.01M170.39 736.26h0.01M188.44 736.26h0.01M206.5 737.39h0.01M165.87 739.08h0.01M159.67 741.34h0.01M155.72 743.94h0.01M177.72 737.39h0.01M178.85 739.65h0.01M178.29 742.47h0.01M190.13 741.34h0.01M196.34 740.78h0.01M203.67 738.52h0.01M205.93 740.21h0.01M208.19 742.47h0.01M213.83 739.65h0.01M217.21 742.47h0.01M219.47 737.95h0.01M173.21 744.72h0.01M179.98 746.42h0.01M196.9 743.6h0.01M201.42 745.29h0.01M209.32 745.85h0.01M212.7 746.98h0.01M216.65 745.29h0.01M222.86 744.16h0.01M147.26 748.67h0.01M151.21 748.67h0.01M171.52 749.24h0.01M183.93 748.67h0.01M191.26 748.11h0.01M203.67 749.24h0.01M244.63 691.27h0.01M227.12 700.58h0.01M228.39 702.69h0.01M248.7 701.85h0.01M234.31 705.23h0.01M232.19 706.93h0.01M230.92 709.04h0.01M234.31 709.46h0.01M229.23 711.16h0.01M227.54 712.85h0.01M229.65 713.27h0.01M235.16 712.85h0.01M245.73 710.31h0.01M244.89 715.39h0.01M249.37 716.23h0.01M231.35 717.08h0.01M227.12 719.2h0.01M225.85 722.16h0.01M228.81 723h0.01M230.92 723.43h0.01M233.89 723h0.01M237.69 721.73h0.01M239.81 721.31h0.01M244.89 721.73h0.01M246.58 724.27h0.01M249.54 723.17h0.01M226.69 725.12h0.01M228.81 725.97h0.01M240.66 728.08h0.01M258.85 726.39h0.01M225.85 732.31h0.01M234.73 733.16h0.01M235.58 733.58h0.01M247.85 733.58h0.01M262.66 732.99h0.01M225.42 735.7h0.01M230.08 735.7h0.01M230.92 734.85h0.01M238.54 736.38h0.01M249.54 736.54h0.01M249.96 738.66h0.01M235.58 739.93h0.01M237.69 740.35h0.01M258.43 742.05h0.01M225.42 743.74h0.01M235.16 741.62h0.01M246.16 744.16h0.01M232.62 745.01h0.01M241.08 745.85h0.01M230.08 747.97h0.01M234.31 747.55h0.01M237.69 748.39h0.01M243.19 748.82h0.01M248.7 749.24h0.01M89.82 751.35h0.01M118.26 752.48h0.01M126.83 754.29h0.01M132.48 757h0.01M144.55 757.67h0.01M103.59 763.2h0.01M145.99 757.9h0.01M149.94 757.9h0.01M157.24 764.22h0.01M165.73 752.96h0.01M173.63 754.94h0.01M180.54 754.94h0.01M181.53 759.87h0.01M186.47 757.9h0.01M187.45 755.92h0.01M190.02 753.95h0.01M193.97 751.97h0.01M193.38 770.73h0.01M194.76 773.7h0.01M199.3 762.24h0.01M204.24 759.48h0.01M206.21 752.96h0.01M207.79 769.15h0.01M221.02 757.9h0.01M222.01 759.87h0.01M221.02 762.24h0.01M224.97 755.92h0.01M225.96 757.9h0.01M229.91 752.96h0.01M230.9 755.92h0.01M231.88 758.89h0.01M233.86 754.94h0.01M235.83 755.92h0.01M239.78 759.87h0.01M243.73 752.96h0.01M243.73 754.94h0.01M247.68 758.89h0.01M248.67 763.43h0.01M252.62 751.97h0.01M253.21 758.89h0.01M223.98 768.17h0.01M224.97 772.71h0.01M227.93 771.33h0.01M237.81 768.76h0.01M237.81 772.71h0.01M242.15 781.59h0.01M259.13 767.38h0.01" stroke="#000" stroke-width="3.5" stroke-linecap="round" fill="none"/>
<line x1="72.3" y1="708.6" x2="262.2" y2="733" stroke="#c93f4b" stroke-width="1.5"/>
<text x="266.1" y="638.8" font-size="14.5"><tspan font-style="italic">r</tspan> = -0.185</text>
<text x="266.4" y="658.9" font-size="14.5"><tspan font-style="italic">P</tspan> = 3.3×10<tspan font-size="9.3" dy="-6.4">-4</tspan></text>
<text class="b" x="342.6" y="603.7" font-size="21">F</text>
<text class="b" x="480" y="603.7" font-size="15">cg26403416</text>
<path d="M416.4 620.9V802.2M415.4 801.2H647.3M410.9 801.2H416.4M410.9 765.34H416.4M410.9 729.48H416.4M410.9 693.62H416.4M410.9 657.76H416.4M410.9 621.9H416.4M416.4 801.2V806.7M473.88 801.2V806.7M531.35 801.2V806.7M588.82 801.2V806.7M646.3 801.2V806.7" stroke="#000" stroke-width="2.0" fill="none"/>
<text class="b" x="409.8" y="805.4" font-size="13" text-anchor="end">0.0</text>
<text class="b" x="409.8" y="769.54" font-size="13" text-anchor="end">0.2</text>
<text class="b" x="409.8" y="733.68" font-size="13" text-anchor="end">0.4</text>
<text class="b" x="409.8" y="697.82" font-size="13" text-anchor="end">0.6</text>
<text class="b" x="409.8" y="661.96" font-size="13" text-anchor="end">0.8</text>
<text class="b" x="409.8" y="626.1" font-size="13" text-anchor="end">1.0</text>
<text class="b" x="416.4" y="818.8" font-size="12.5" text-anchor="middle">0</text>
<text class="b" x="473.88" y="818.8" font-size="12.5" text-anchor="middle">3</text>
<text class="b" x="531.35" y="818.8" font-size="12.5" text-anchor="middle">6</text>
<text class="b" x="588.82" y="818.8" font-size="12.5" text-anchor="middle">9</text>
<text class="b" x="646.3" y="818.8" font-size="12.5" text-anchor="middle">12</text>
<text class="b" x="429.44" y="839.9" font-size="14.5">The relative expression of</text>
<text class="b" x="593.98" y="839.9" font-size="14.5" font-style="italic">MUC1</text>
<text class="b" transform="translate(380.4 711.55) rotate(-90)" x="0" y="0" font-size="14.2" text-anchor="middle">DNA methylation (%)</text>
<path d="M472.47 656.54h0.01M474.72 688.14h0.01M489.39 689.49h0.01M495.6 690.62h0.01M498.98 689.27h0.01M495.04 696.49h0.01M492.78 699.65h0.01M489.96 701.34h0.01M493.34 702.81h0.01M465.13 700.55h0.01M479.8 707.32h0.01M484.09 709.8h0.01M521.44 669.18h0.01M547.73 669.52h0.01M561.83 670.54h0.01M521.44 679.68h0.01M507.67 683.85h0.01M502.03 687.01h0.01M538.59 681.82h0.01M548.74 683.62h0.01M554.72 683.85h0.01M556.98 683.85h0.01M542.31 687.01h0.01M551.34 687.01h0.01M553.94 688.36h0.01M531.82 694.01h0.01M530.47 696.26h0.01M536.33 692.31h0.01M538.14 695.36h0.01M542.65 694.01h0.01M547.17 695.13h0.01M562.62 692.65h0.01M518.96 695.36h0.01M517.49 698.29h0.01M502.48 699.65h0.01M535.2 699.87h0.01M538.93 701.68h0.01M546.04 701.68h0.01M562.62 699.08h0.01M570.18 697.62h0.01M579.55 696.26h0.01M510.16 703.03h0.01M510.72 706.42h0.01M519.18 703.03h0.01M522.57 705.85h0.01M525.39 706.19h0.01M528.21 706.19h0.01M530.47 706.42h0.01M540.62 706.19h0.01M542.88 707.55h0.01M546.26 705.85h0.01M549.65 705.29h0.01M551.9 706.42h0.01M554.16 706.98h0.01M555.85 703.03h0.01M558.11 702.47h0.01M558.67 705.29h0.01M563.19 706.98h0.01M567.7 705.85h0.01M569.96 706.98h0.01M577.86 706.42h0.01M584.65 697.22h0.01M586.77 698.24h0.01M598.62 701.62h0.01M602.68 704.84h0.01M583.81 709.24h0.01M585.5 709.24h0.01M603.53 708.82h0.01M495.04 722.19h0.01M497.86 721.85h0.01M427.67 727.15h0.01M475.29 727.83h0.01M477.55 727.83h0.01M433.31 737.08h0.01M457.46 736.85h0.01M485.67 737.31h0.01M427 747.01h0.01M472.24 744.08h0.01M493.91 745.54h0.01M497.63 748.14h0.01M499.55 751.75h0.01M444.26 751.52h0.01M475.51 751.18h0.01M486.57 749.72h0.01M457.8 755.36h0.01M481.16 758.74h0.01M498.98 761.9h0.01M499.55 740.47h0.01M512.98 713.39h0.01M513.54 715.08h0.01M532.72 711.13h0.01M537.24 710.56h0.01M541.75 711.13h0.01M545.13 710.56h0.01M547.39 711.69h0.01M550.78 711.13h0.01M553.03 712.82h0.01M552.47 715.08h0.01M564.88 711.13h0.01M568.83 711.69h0.01M573.34 710.56h0.01M577.86 712.26h0.01M567.7 715.08h0.01M578.42 715.64h0.01M502.82 720.72h0.01M504.51 723.54h0.01M514.67 720.38h0.01M521.44 720.72h0.01M527.08 718.46h0.01M525.39 722.98h0.01M511.28 724.67h0.01M539.49 716.21h0.01M538.93 721.28h0.01M540.62 718.46h0.01M542.88 720.16h0.01M545.13 721.28h0.01M549.65 717.9h0.01M550.21 721.85h0.01M553.03 722.41h0.01M555.29 720.16h0.01M558.67 718.46h0.01M560.93 717.33h0.01M563.19 719.59h0.01M559.8 721.85h0.01M562.62 724.1h0.01M565.44 721.28h0.01M568.83 719.03h0.01M572.21 721.28h0.01M575.6 717.9h0.01M578.98 719.59h0.01M554.16 724.67h0.01M542.88 725.23h0.01M520.87 726.93h0.01M528.77 728.05h0.01M529.9 729.18h0.01M533.85 730.31h0.01M519.75 732h0.01M506.21 729.75h0.01M505.08 732.57h0.01M507.9 731.44h0.01M510.16 733.7h0.01M540.62 731.44h0.01M542.88 730.87h0.01M550.21 729.75h0.01M551.9 726.93h0.01M555.85 726.93h0.01M558.67 728.05h0.01M571.09 726.93h0.01M573.34 728.05h0.01M575.6 729.75h0.01M578.98 728.62h0.01M567.7 730.87h0.01M572.21 731.44h0.01M506.21 734.26h0.01M509.59 737.08h0.01M525.95 735.95h0.01M527.08 738.21h0.01M537.8 736.52h0.01M541.18 735.39h0.01M543.44 736.52h0.01M545.7 737.08h0.01M550.78 733.7h0.01M556.42 734.26h0.01M557.55 737.08h0.01M561.5 735.39h0.01M563.19 738.21h0.01M567.7 735.95h0.01M570.52 734.26h0.01M573.34 735.95h0.01M576.73 735.39h0.01M578.98 737.64h0.01M501.13 740.47h0.01M503.95 740.47h0.01M527.64 740.24h0.01M533.29 739.9h0.01M558.67 739.34h0.01M559.8 741.59h0.01M563.19 740.47h0.01M566.01 742.16h0.01M569.96 739.9h0.01M572.78 738.77h0.01M575.6 741.03h0.01M513.54 742.72h0.01M523.7 744.41h0.01M533.29 743.85h0.01M533.85 746.11h0.01M538.93 746.11h0.01M545.7 743.85h0.01M550.78 746.67h0.01M555.29 744.98h0.01M558.67 743.85h0.01M561.5 742.72h0.01M564.32 744.98h0.01M567.7 743.85h0.01M571.09 743.29h0.01M573.91 744.41h0.01M577.86 746.11h0.01M520.87 747.8h0.01M519.75 750.06h0.01M542.88 748.36h0.01M546.26 749.27h0.01M562.06 747.24h0.01M572.21 748.36h0.01M578.98 747.8h0.01M512.41 750.06h0.01M501.13 752.31h0.01M525.95 752.88h0.01M527.08 755.13h0.01M540.62 753.44h0.01M543.44 751.75h0.01M562.06 751.75h0.01M562.62 753.44h0.01M571.65 753.44h0.01M574.47 754.57h0.01M578.98 752.88h0.01M505.42 754.01h0.01M503.95 756.83h0.01M535.54 757.17h0.01M547.95 758.29h0.01M558.11 757.39h0.01M559.24 759.08h0.01M539.49 759.65h0.01M541.18 760.21h0.01M553.6 762.81h0.01M576.73 763.03h0.01M547.39 769.24h0.01M561.5 768.67h0.01M582.54 713.39h0.01M588.04 714.65h0.01M588.46 715.92h0.01M580.85 718.04h0.01M582.12 719.31h0.01M584.65 718.46h0.01M585.08 721h0.01M599.89 718.04h0.01M603.02 723.12h0.01M582.96 724.39h0.01M582.54 726.08h0.01M584.65 726.5h0.01M588.89 725.23h0.01M591.85 726.08h0.01M593.54 724.39h0.01M585.5 729.89h0.01M598.62 730.31h0.01M600.31 730.14h0.01M602 730.31h0.01M580.42 732.85h0.01M591.85 734.54h0.01M594.81 734.54h0.01M584.23 736.23h0.01M588.46 736.23h0.01M597.35 737.25h0.01M603.7 736.91h0.01M612.58 738.6h0.01M616.39 739.62h0.01M580.42 737.93h0.01M586.35 740.89h0.01M589.31 739.62h0.01M592.69 741.31h0.01M595.23 740.47h0.01M600.31 740.3h0.01M586.77 744.7h0.01M588.46 745.54h0.01M589.31 743.43h0.01M603.27 745.97h0.01M606.66 748.76h0.01M612.16 748.08h0.01M584.23 748.93h0.01M586.35 751.47h0.01M590.16 748.08h0.01M591.85 749.77h0.01M592.69 751.89h0.01M597.35 751.47h0.01M597.77 754.43h0.01M602.43 752.74h0.01M580.42 751.89h0.01M585.08 755.28h0.01M586.35 756.12h0.01M580.42 758.66h0.01M583.81 759.51h0.01M587.62 760.78h0.01M594.39 759.93h0.01M594.39 762.47h0.01M601.58 759.93h0.01M607.08 758.24h0.01M613 756.54h0.01M590.16 763.48h0.01M582.12 765.43h0.01M602.43 765.43h0.01M591.42 767.55h0.01M591.85 769.24h0.01M486.71 776.48h0.01M510.92 773.38h0.01M548.15 772.76h0.01M578.87 774.31h0.01M592.21 779.58h0.01M596.25 783.62h0.01M579.18 784.24h0.01" stroke="#000" stroke-width="3.5" stroke-linecap="round" fill="none"/>
<line x1="426.1" y1="711.3" x2="614.7" y2="737.4" stroke="#c93f4b" stroke-width="1.5"/>
<text x="614.1" y="636.6" font-size="14.5"><tspan font-style="italic">r</tspan> = -0.220</text>
<text x="614.1" y="656.6" font-size="14.5"><tspan font-style="italic">P</tspan> = 1.7×10<tspan font-size="9.3" dy="-6.4">-5</tspan></text>
</svg></body></html>
